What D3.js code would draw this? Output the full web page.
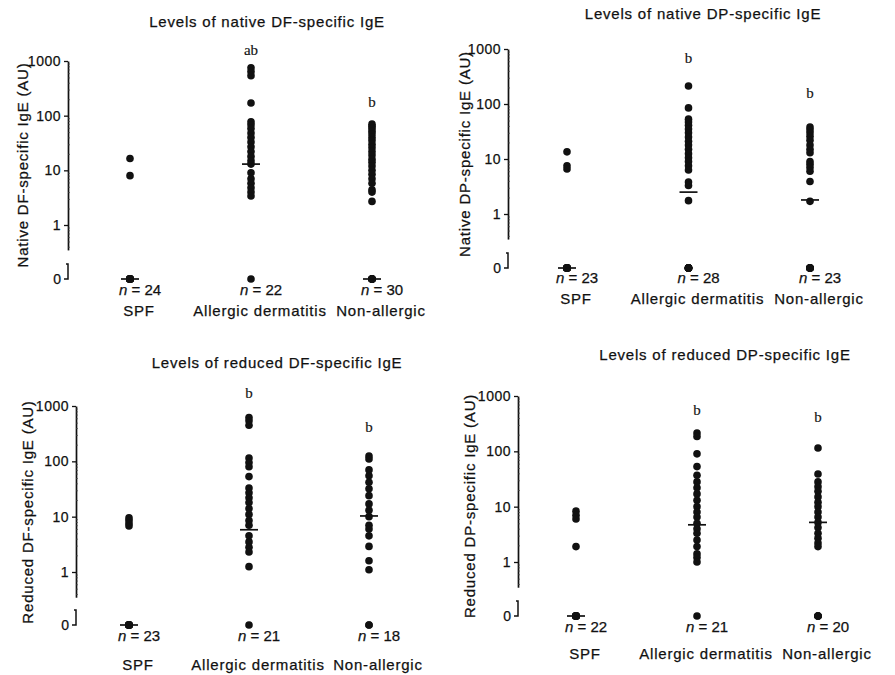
<!DOCTYPE html>
<html>
<head>
<meta charset="utf-8">
<script src="https://cdnjs.cloudflare.com/ajax/libs/d3/7.8.5/d3.min.js"></script>
<style>
body { margin: 0; background: #fff; }
svg { display: block; }
text { font-family: "Liberation Sans", Arial, sans-serif; fill: #111; stroke: #111; stroke-width: 0.25px; }
text.sig { font-family: "Liberation Serif", "Times New Roman", serif; stroke-width: 0.15px; opacity: 0.99; }
</style>
</head>
<body>
<svg id="chart" width="895" height="675"></svg>
<script>
var groups = ['SPF', 'Allergic dermatitis', 'Non-allergic'];
var tickValues = [1, 10, 100, 1000];
var minorTicks = [0.4, 0.5, 0.6, 0.7, 0.8, 0.9, 2, 3, 4, 5, 6, 7, 8, 9, 20, 30, 40, 50, 60, 70, 80, 90,
    200, 300, 400, 500, 600, 700, 800, 900];

// values, 0 = below detection (drawn on the "0" row)
var nativeDF = [
    [16.5, 8, 0, 0, 0, 0, 0, 0, 0, 0, 0, 0, 0, 0, 0, 0, 0, 0, 0, 0, 0, 0, 0, 0],
    [750, 640, 540, 170, 77, 68, 58, 48, 40, 33, 27, 22, 18, 15, 13, 9, 7, 5.8, 4.8, 4, 3.4, 0],
    [70, 64, 58, 52, 46, 40, 35, 30, 26, 22, 19, 16, 14, 12, 10, 8.5, 7, 5.8, 4.4, 4, 2.7, 0, 0, 0, 0, 0, 0, 0, 0, 0]
];
var nativeDFMedian = [0, 13, 0];
var nativeDFLetters = ['', 'ab', 'b'];

var nativeDP = [
    [13.5, 7.5, 6.6, 0, 0, 0, 0, 0, 0, 0, 0, 0, 0, 0, 0, 0, 0, 0, 0, 0, 0, 0, 0],
    [212, 85, 53, 47, 41, 35, 30, 25, 21, 18, 15, 12.5, 10.5, 9, 7.5, 6.3, 3.8, 3.3, 1.75, 0, 0, 0, 0, 0, 0, 0, 0, 0],
    [38, 34, 30, 26, 22, 18, 15, 13, 9, 8, 7, 6, 3.9, 1.7, 0, 0, 0, 0, 0, 0, 0, 0, 0]
];
var nativeDPMedian = [0, 2.5, 1.8];
var nativeDPLetters = ['', 'b', 'b'];

var reducedDF = [
    [9.5, 8.5, 7.5, 6.8, 0, 0, 0, 0, 0, 0, 0, 0, 0, 0, 0, 0, 0, 0, 0, 0, 0, 0, 0],
    [620, 540, 450, 115, 95, 80, 53, 33, 27, 22, 18, 14, 11, 8.5, 7, 4.5, 3.5, 2.8, 2.3, 1.25, 0],
    [125, 110, 70, 55, 42, 32, 24, 17, 13, 10, 7, 6, 4.5, 2.9, 1.6, 1.1, 0, 0]
];
var reducedDFMedian = [0, 5.8, 10.3];
var reducedDFLetters = ['', 'b', 'b'];

var reducedDP = [
    [8.3, 7, 6, 1.9, 0, 0, 0, 0, 0, 0, 0, 0, 0, 0, 0, 0, 0, 0, 0, 0, 0, 0],
    [215, 185, 90, 53, 37, 28, 22, 17, 13, 10, 8, 6.5, 5, 4, 3.3, 2.5, 1.9, 1.4, 1.2, 1.0, 0],
    [115, 39, 28, 23, 19, 15, 12, 10, 8, 6.5, 5.2, 4.2, 3.3, 2.7, 2.2, 1.9, 0, 0, 0, 0]
];
var reducedDPMedian = [0, 4.7, 5.2];
var reducedDPLetters = ['', 'b', 'b'];

var panels = [
    { title: 'Levels of native DF-specific IgE', yTitle: 'Native DF-specific IgE (AU)',
      values: nativeDF, medians: nativeDFMedian, letters: nativeDFLetters,
      axisX: 68, y1000: 61, y1: 225, y0: 279, cats: [130, 372], nY: 290, labY: 311,
      titleX: 267, titleY: 22, yTitleX: 23, yTitleY: 165, letterY: [0, 50, 102] },
    { title: 'Levels of native DP-specific IgE', yTitle: 'Native DP-specific IgE (AU)',
      values: nativeDP, medians: nativeDPMedian, letters: nativeDPLetters,
      axisX: 508, y1000: 49, y1: 214, y0: 268, cats: [567, 810], nY: 278, labY: 299,
      titleX: 703, titleY: 14, yTitleX: 465, yTitleY: 154, letterY: [0, 58, 93] },
    { title: 'Levels of reduced DF-specific IgE', yTitle: 'Reduced DF-specific IgE (AU)',
      values: reducedDF, medians: reducedDFMedian, letters: reducedDFLetters,
      axisX: 76, y1000: 406, y1: 572, y0: 625, cats: [129, 369], nY: 636, labY: 665,
      titleX: 277, titleY: 363, yTitleX: 28, yTitleY: 512, letterY: [0, 393, 427] },
    { title: 'Levels of reduced DP-specific IgE', yTitle: 'Reduced DP-specific IgE (AU)',
      values: reducedDP, medians: reducedDPMedian, letters: reducedDPLetters,
      axisX: 518, y1000: 396, y1: 562, y0: 616, cats: [576, 818], nY: 627, labY: 654,
      titleX: 725, titleY: 355, yTitleX: 470, yTitleY: 506, letterY: [0, 410, 417] }
];

var svg = d3.select('#chart');

panels.forEach(function (p) {
    var g = svg.append('g'),
        x = d3.scalePoint().domain(groups).range(p.cats),
        y = d3.scaleLog().domain([1, 1000]).range([p.y1, p.y1000]),
        axisScale = y.copy().domain([0.35, 1000]).range([y(0.35), y(1000)]);

    function yPos (v) { return v > 0 ? y(v) : p.y0; }

    // axis (log part)
    var ax = g.append('g')
        .attr('transform', 'translate(' + p.axisX + ',0)')
        .call(d3.axisLeft(axisScale).tickValues(tickValues).tickFormat(d3.format('d'))
            .tickSizeInner(4).tickSizeOuter(0).tickPadding(3));
    ax.select('.domain').attr('stroke', '#111').attr('stroke-width', 1.7);
    ax.selectAll('.tick line').attr('stroke', '#111').attr('stroke-width', 1.3);
    ax.selectAll('.tick text')
        .style('font-size', '14px').style('letter-spacing', '0.5px').attr('fill', '#111');

    // minor ticks, tiny, on the inside
    var mx = g.append('g')
        .attr('transform', 'translate(' + p.axisX + ',0)')
        .call(d3.axisRight(axisScale).tickValues(minorTicks).tickFormat('').tickSize(2));
    mx.select('.domain').remove();
    mx.selectAll('.tick line').attr('stroke', '#444').attr('stroke-width', 0.7);

    // zero bracket
    g.append('path')
        .attr('d', 'M' + (p.axisX - 2) + ',' + (p.y0 - 15) + 'H' + p.axisX + 'V' + p.y0 + 'H' + (p.axisX - 4))
        .attr('fill', 'none').attr('stroke', '#111').attr('stroke-width', 1.5);
    g.append('text')
        .attr('x', p.axisX - 7).attr('y', p.y0).attr('dy', '0.35em')
        .attr('text-anchor', 'end').style('font-size', '14px')
        .text('0');

    // titles
    g.append('text')
        .attr('x', p.titleX).attr('y', p.titleY).attr('dy', '0.35em')
        .attr('text-anchor', 'middle').style('font-size', '15px').style('letter-spacing', '0.8px')
        .text(p.title);
    g.append('text')
        .attr('transform', 'translate(' + p.yTitleX + ',' + p.yTitleY + ') rotate(-90)')
        .attr('dy', '0.35em').attr('text-anchor', 'middle')
        .style('font-size', '15px').style('letter-spacing', '0.8px')
        .text(p.yTitle);

    groups.forEach(function (grp, i) {
        var cx = x(grp),
            vals = p.values[i];

        g.selectAll(null)
            .data(vals)
            .enter().append('circle')
            .attr('cx', cx)
            .attr('cy', function (d) { return yPos(d); })
            .attr('r', 3.8)
            .attr('fill', '#111');

        g.append('line')
            .attr('x1', cx - 9).attr('x2', cx + 9)
            .attr('y1', yPos(p.medians[i])).attr('y2', yPos(p.medians[i]))
            .attr('stroke', '#111').attr('stroke-width', 1.7);

        if (p.letters[i]) {
            g.append('text')
                .attr('class', 'sig')
                .attr('x', cx).attr('y', p.letterY[i]).attr('dy', '0.35em')
                .attr('text-anchor', 'middle')
                .style('font-size', '15px')
                .text(p.letters[i]);
        }

        var nt = g.append('text')
            .attr('x', cx - 11).attr('y', p.nY).attr('dy', '0.35em')
            .style('font-size', '15px');
        nt.append('tspan').style('font-style', 'italic').text('n');
        nt.append('tspan').text(' = ' + vals.length);

        g.append('text')
            .attr('x', cx + 9).attr('y', p.labY).attr('dy', '0.35em')
            .attr('text-anchor', 'middle')
            .style('font-size', '15px').style('letter-spacing', '0.8px')
            .text(grp);
    });
});
</script>
</body>
</html>
